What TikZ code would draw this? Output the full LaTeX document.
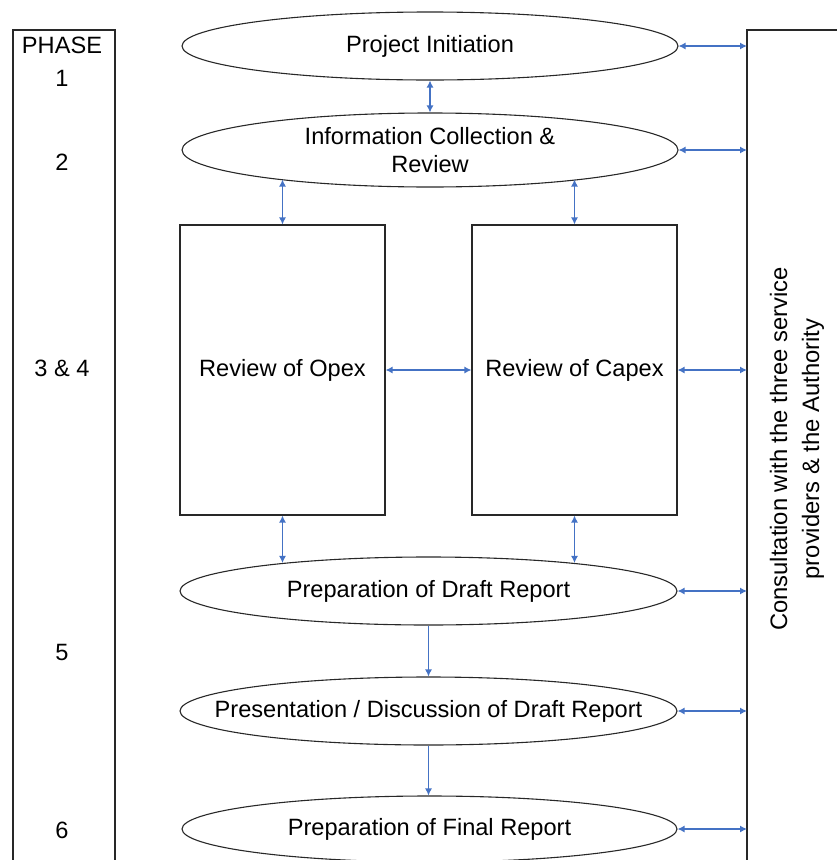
\documentclass[tikz,border=0pt]{standalone}
\usepackage{fontspec}
\setmainfont{Liberation Sans}
\usetikzlibrary{shapes.geometric,arrows.meta}
\definecolor{arrblue}{RGB}{68,114,196}
\definecolor{edge}{RGB}{40,40,40}
\begin{document}
\begin{tikzpicture}[x=1pt,y=-1pt,
  every node/.style={font=\fontsize{23.6}{28}\selectfont, text=black},
  ell/.style={ellipse, draw=edge, line width=1.1pt, inner xsep=-50pt, inner ysep=-8pt, align=center},
  box/.style={rectangle, draw=edge, line width=1.1pt, minimum width=205pt, minimum height=290pt, inner sep=0pt},
  dbl/.style={arrblue, line width=1.2pt, {Latex[length=7pt,width=7pt]}-{Latex[length=7pt,width=7pt]}},
  sgl/.style={arrblue, line width=1.2pt, -{Latex[length=7pt,width=7pt]}},
  frame/.style={draw=edge, line width=1.1pt},
  lbl/.style={font=\fontsize{23.6}{28}\selectfont}
]
\useasboundingbox (0,0) rectangle (836,860);
% frames
\draw[frame] (13,862) -- (13,30) -- (115,30) -- (115,862);
\draw[frame] (747,862) -- (747,30) -- (840,30);
\coordinate (R) at (747,0);
% phase labels
\node[lbl] (ph) at (62,45) {PHASE};
\node[lbl] (p1) at (62,78) {1};
\node[lbl] (p2) at (62,162) {2};
\node[lbl] (p34) at (62,368) {3 \& 4};
\node[lbl] (p5) at (62,652) {5};
\node[lbl] (p6) at (62,830) {6};
% ellipses
\node[ell, minimum width=496pt, minimum height=68pt] (init) at (430,46) {Project Initiation};
\node[ell, minimum width=496pt, minimum height=74pt] (info) at (430,150) {Information Collection \&\\Review};
\node[box] (opex) at (282.5,370) {Review of Opex};
\node[box] (capex) at (574.5,370) {Review of Capex};
\node[ell, minimum width=497pt, minimum height=68pt] (draft) at (428.5,591) {Preparation of Draft Report};
\node[ell, minimum width=497pt, minimum height=68pt] (pres) at (428.5,711) {Presentation / Discussion of Draft Report};
\node[ell, minimum width=495pt, minimum height=66pt] (final) at (429.5,829) {Preparation of Final Report};
% consult text
\node[lbl, rotate=90, align=center, font=\fontsize{23.8}{32}\selectfont] (cons) at (797,449) {Consultation with the three service\\providers \& the Authority};
% vertical connectors
\draw[dbl] (init.south) -- (info.north);
\draw[dbl, shorten <=-8pt] (opex.north |- info.south) -- (opex.north);
\draw[dbl, shorten <=-8pt] (capex.north |- info.south) -- (capex.north);
\draw[dbl, shorten >=-6.5pt] (opex.south) -- (opex.south |- draft.north);
\draw[dbl, shorten >=-6.5pt] (capex.south) -- (capex.south |- draft.north);
\draw[sgl] (draft.south) -- (pres.north);
\draw[sgl] (pres.south) -- (pres.south |- final.north);
\draw[dbl] (opex.east) -- (capex.west);
% right connectors
\draw[dbl] (init.east) -- (init.east -| R);
\draw[dbl] (info.east) -- (info.east -| R);
\draw[dbl] (capex.east) -- (capex.east -| R);
\draw[dbl] (draft.east) -- (draft.east -| R);
\draw[dbl] (pres.east) -- (pres.east -| R);
\draw[dbl] (final.east) -- (final.east -| R);
\end{tikzpicture}
\end{document}
